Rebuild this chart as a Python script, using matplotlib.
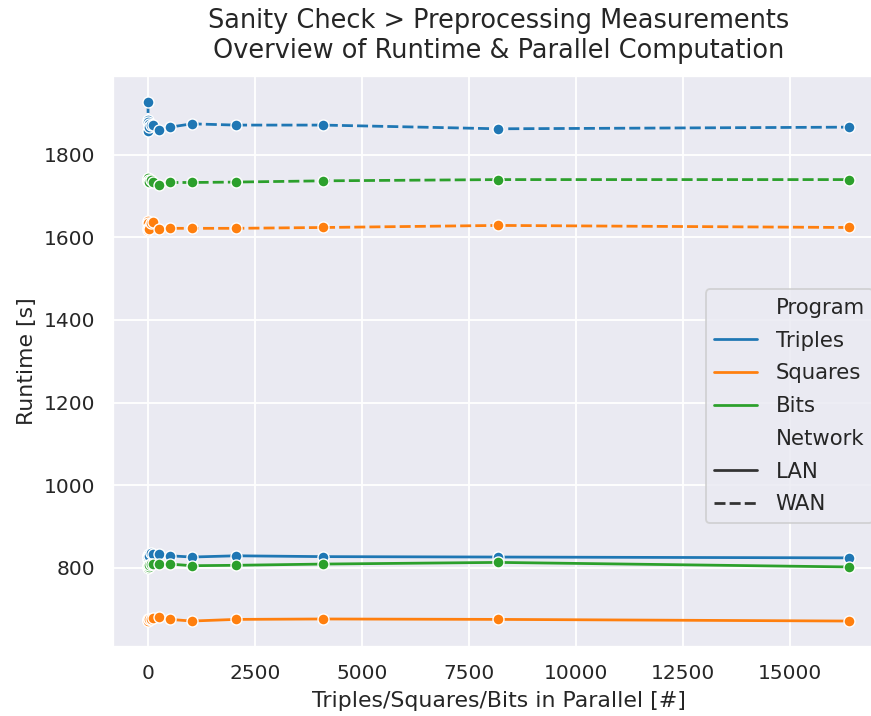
import numpy as np
import pandas as pd
import matplotlib
matplotlib.use("Agg")
import matplotlib.pyplot as plt
import seaborn as sns

# Elementos procesados en paralelo (potencias de 2)
paralelo = [1, 2, 4, 8, 16, 32, 64, 128, 256, 512, 1024, 2048, 4096, 8192, 16384]

# Tiempos de ejecución [s]
triples_lan = [828, 822, 830, 826, 833, 829, 836, 834, 834, 829, 826, 829, 827, 826, 824]
squares_lan = [674, 673, 675, 672, 676, 677, 676, 679, 680, 675, 671, 675, 676, 675, 671]
bits_lan = [802, 806, 800, 805, 803, 807, 808, 808, 809, 809, 805, 806, 809, 813, 802]

triples_wan = [1928, 1858, 1884, 1879, 1874, 1868, 1871, 1872, 1860, 1867, 1875, 1872, 1872, 1863, 1867]
squares_wan = [1618, 1640, 1622, 1636, 1625, 1621, 1634, 1638, 1620, 1622, 1622, 1622, 1624, 1629, 1624]
bits_wan = [1741, 1738, 1743, 1736, 1740, 1735, 1739, 1734, 1728, 1733, 1733, 1734, 1737, 1740, 1740]

programas = ["Triples", "Squares", "Bits"]
redes = ["LAN", "WAN"]
colores = ["tab:blue", "tab:orange", "tab:green"]
series = {
    ("Triples", "LAN"): triples_lan,
    ("Squares", "LAN"): squares_lan,
    ("Bits", "LAN"): bits_lan,
    ("Triples", "WAN"): triples_wan,
    ("Squares", "WAN"): squares_wan,
    ("Bits", "WAN"): bits_wan,
}

filas = []
for (prog, red), valores in series.items():
    for x, y in zip(paralelo, valores):
        filas.append({"Parallel": x, "Runtime": y, "Program": prog, "Network": red})
df = pd.DataFrame(filas)

sns.set_theme(context="notebook", style="darkgrid")

dpi = 132
fig = plt.figure(figsize=(871 / dpi, 716 / dpi), dpi=dpi)
ax = fig.add_axes([113 / 871, 1 - 647 / 716, (884 - 113) / 871, (647 - 76) / 716])

sns.lineplot(data=df, x="Parallel", y="Runtime", hue="Program", style="Network",
             hue_order=programas, style_order=redes, palette=colores, marker="o", ax=ax)

ax.set_title("Sanity Check > Preprocessing Measurements\nOverview of Runtime & Parallel Computation",
             fontsize=14, pad=10)
ax.set_xlabel("Triples/Squares/Bits in Parallel [#]")
ax.set_ylabel("Runtime [s]")

# Leyenda solo con líneas (sin marcadores)
handles, labels = ax.get_legend_handles_labels()
for h in handles:
    h.set_marker("")
ax.legend(handles, labels, loc="center right", bbox_to_anchor=(1, 0.422),
          fontsize=11.6, labelspacing=0.6, handletextpad=0.9)

fig.savefig("out.png", dpi=dpi)
